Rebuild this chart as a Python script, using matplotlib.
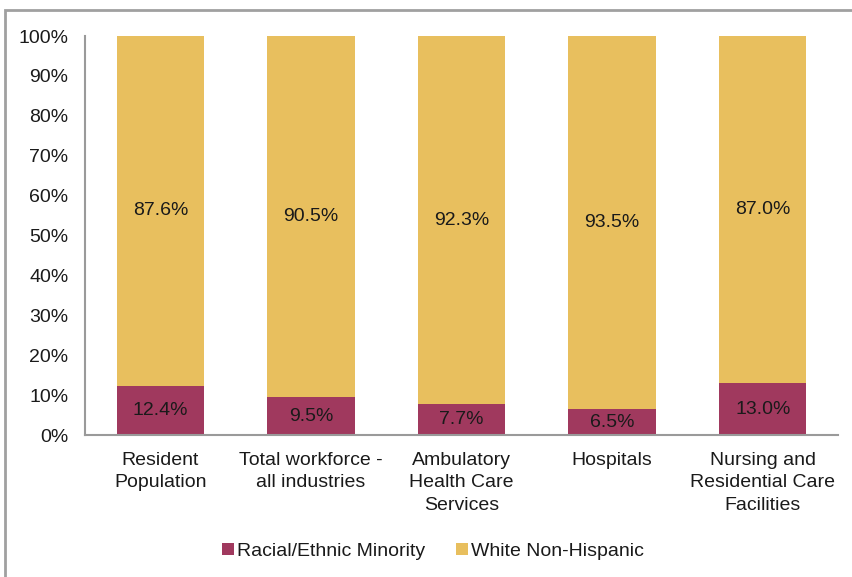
import matplotlib
matplotlib.use("Agg")
import matplotlib.pyplot as plt
import matplotlib.ticker as mticker
from matplotlib.patches import Rectangle

# ── data ──────────────────────────────────────────────────────────────────────
CATEGORIES = [
    "Resident\nPopulation",
    "Total workforce -\nall industries",
    "Ambulatory\nHealth Care\nServices",
    "Hospitals",
    "Nursing and\nResidential Care\nFacilities",
]
MINORITY = [12.4, 9.5, 7.7, 6.5, 13.0]
WHITE = [87.6, 90.5, 92.3, 93.5, 87.0]
SERIES_LABELS = ["Racial/Ethnic Minority", "White Non-Hispanic"]

# ── style ─────────────────────────────────────────────────────────────────────
plt.rcParams["font.family"] = ["Liberation Sans", "DejaVu Sans"]
MAROON = "#A0395E"
GOLD = "#E8BF5E"
AXIS_GREY = "#9a9a9a"
TEXT = "#1a1a1a"
FS = 14

fig = plt.figure(figsize=(8.52, 5.77), dpi=100)
ax = fig.add_axes([0.0998, 0.246, 0.8838, 0.6916])

x = list(range(len(CATEGORIES)))
width = 0.58
ax.bar(x, MINORITY, width, color=MAROON, label=SERIES_LABELS[0], zorder=2)
ax.bar(x, WHITE, width, bottom=MINORITY, color=GOLD, label=SERIES_LABELS[1], zorder=2)

# value labels centred in each segment
for xi, m, w in zip(x, MINORITY, WHITE):
    ax.text(xi, m / 2, f"{m:.1f}%", ha="center", va="center", fontsize=FS, color=TEXT)
    ax.text(xi, m + w / 2, f"{w:.1f}%", ha="center", va="center", fontsize=FS, color=TEXT)

ax.set_xlim(-0.5, len(CATEGORIES) - 0.5)
ax.set_ylim(0, 100)
ax.yaxis.set_major_locator(mticker.MultipleLocator(10))
ax.yaxis.set_major_formatter(mticker.FuncFormatter(lambda v, _: f"{v:.0f}%"))
ax.set_xticks(x)
ax.set_xticklabels(CATEGORIES, fontsize=FS, color=TEXT, linespacing=1.42)
ax.tick_params(axis="y", length=0, pad=12, labelsize=FS, labelcolor=TEXT)
ax.tick_params(axis="x", length=0, pad=12)

for side in ("top", "right"):
    ax.spines[side].set_visible(False)
for side in ("left", "bottom"):
    ax.spines[side].set_color(AXIS_GREY)
    ax.spines[side].set_linewidth(1.5)

fig.legend(
    loc="center",
    bbox_to_anchor=(0.508, 0.045),
    ncol=2,
    frameon=False,
    fontsize=FS,
    handlelength=0.6,
    handleheight=0.6,
    handletextpad=0.15,
    columnspacing=1.6,
    labelcolor=TEXT,
)

# chart frame, open towards the right and bottom
fig.patches.append(
    Rectangle(
        (5 / 852, -0.2), 1.2, 1.2 - 10 / 577,
        transform=fig.transFigure, fill=False, edgecolor="#a0a0a0", linewidth=2,
    )
)

fig.savefig("out.png", dpi=100, facecolor="white")
